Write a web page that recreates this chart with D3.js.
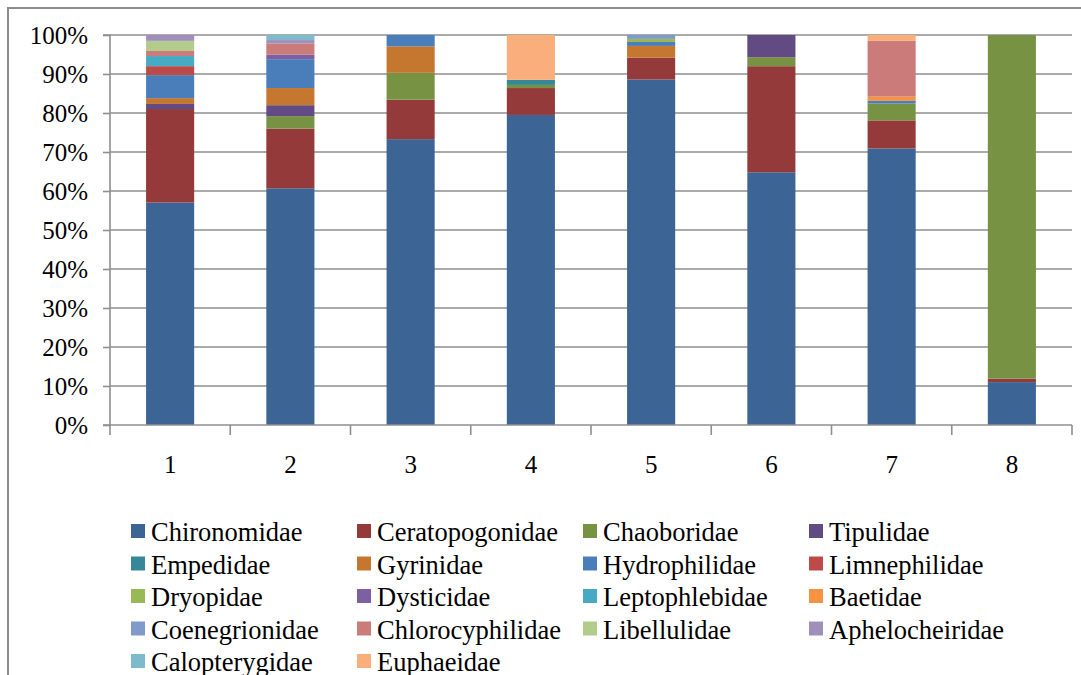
<!DOCTYPE html>
<html><head><meta charset="utf-8">
<script src="https://cdn.jsdelivr.net/npm/d3@7"></script>
<style>body{margin:0;background:#fff;}svg{display:block;} text{font-family:"Liberation Serif","Times New Roman",serif !important;}</style>
</head><body>
<svg id="chart" width="1081" height="675"></svg>
<script>
const categories = ["1","2","3","4","5","6","7","8"];
const families = ["Chironomidae","Ceratopogonidae","Chaoboridae","Tipulidae","Empedidae","Gyrinidae","Hydrophilidae","Limnephilidae","Dryopidae","Dysticidae","Leptophlebidae","Baetidae","Coenegrionidae","Chlorocyphilidae","Libellulidae","Aphelocheiridae","Calopterygidae","Euphaeidae"];
const colors = ["#3C6595","#953A3A","#789244","#614B82","#368797","#C6772F","#4A7EBB","#BB4A48","#98B954","#7D60A0","#46AAC5","#F69240","#7F9ACB","#CC7B7B","#B3CB8B","#A18FBB","#7DBBCC","#F9AE7B"];
const Chironomidae     = [57.1, 60.7, 73.3, 79.5, 88.6, 64.8, 70.9, 11.0];
const Ceratopogonidae  = [24.0, 15.3, 10.1,  6.9,  5.6, 27.2,  7.2,  0.9];
const Chaoboridae      = [ 0.0,  3.2,  6.9,  0.8,  0.0,  2.3,  4.3, 88.1];
const Tipulidae        = [ 1.3,  2.8,  0.0,  0.0,  0.0,  5.7,  0.0,  0.0];
const Empedidae        = [ 0.0,  0.0,  0.0,  1.3,  0.0,  0.0,  0.0,  0.0];
const Gyrinidae        = [ 1.5,  4.4,  6.8,  0.0,  3.0,  0.0,  0.0,  0.0];
const Hydrophilidae    = [ 5.9,  7.4,  2.9,  0.0,  1.0,  0.0,  0.7,  0.0];
const Limnephilidae    = [ 2.3,  0.0,  0.0,  0.0,  0.0,  0.0,  0.0,  0.0];
const Dryopidae        = [ 0.0,  0.0,  0.0,  0.0,  0.8,  0.0,  0.0,  0.0];
const Dysticidae       = [ 0.0,  1.2,  0.0,  0.0,  0.0,  0.0,  0.0,  0.0];
const Leptophlebidae   = [ 2.6,  0.0,  0.0,  0.0,  0.0,  0.0,  0.0,  0.0];
const Baetidae         = [ 0.0,  0.0,  0.0,  0.0,  0.0,  0.0,  1.1,  0.0];
const Coenegrionidae   = [ 0.0,  0.0,  0.0,  0.0,  1.0,  0.0,  0.0,  0.0];
const Chlorocyphilidae = [ 1.3,  2.8,  0.0,  0.0,  0.0,  0.0, 14.3,  0.0];
const Libellulidae     = [ 2.6,  0.0,  0.0,  0.0,  0.0,  0.0,  0.0,  0.0];
const Aphelocheiridae  = [ 1.5,  0.9,  0.0,  0.0,  0.0,  0.0,  0.0,  0.0];
const Calopterygidae   = [ 0.0,  1.3,  0.0,  0.0,  0.0,  0.0,  0.0,  0.0];
const Euphaeidae       = [ 0.0,  0.0,  0.0, 11.5,  0.0,  0.0,  1.5,  0.0];
const yTicks = [0,0.1,0.2,0.3,0.4,0.5,0.6,0.7,0.8,0.9,1.0];

const seriesValues = [Chironomidae,Ceratopogonidae,Chaoboridae,Tipulidae,Empedidae,Gyrinidae,Hydrophilidae,Limnephilidae,Dryopidae,Dysticidae,Leptophlebidae,Baetidae,Coenegrionidae,Chlorocyphilidae,Libellulidae,Aphelocheiridae,Calopterygidae,Euphaeidae];
const table = categories.map((c,i)=>{const r={cat:c}; families.forEach((f,j)=>r[f]=seriesValues[j][i]); return r;});

const svg = d3.select("#chart");
const L=110, R=1072, T=35, B=425;

svg.append("rect").attr("x",8).attr("y",8).attr("width",1090).attr("height",700)
  .attr("fill","none").attr("stroke","#8c8c8c").attr("stroke-width",2);

const x = d3.scaleBand().domain(categories).range([L,R]).paddingInner(0.6).paddingOuter(0.3);
const y = d3.scaleLinear().domain([0,1]).range([B,T]);
const color = d3.scaleOrdinal().domain(families).range(colors);

svg.append("g").selectAll("line").data(yTicks.slice(1)).join("line")
  .attr("x1",L).attr("x2",R).attr("y1",d=>y(d)).attr("y2",d=>y(d))
  .attr("stroke","#8f8f8f").attr("stroke-width",1.6);

const stack = d3.stack().keys(families).offset(d3.stackOffsetExpand);
const series = stack(table);
svg.append("g").selectAll("g").data(series).join("g").attr("fill",d=>color(d.key))
  .selectAll("rect").data(d=>d).join("rect")
  .attr("x",d=>x(d.data.cat)).attr("width",x.bandwidth())
  .attr("y",d=>y(d[1])).attr("height",d=>Math.max(0,y(d[0])-y(d[1])));

const yAxis = d3.axisLeft(y).tickValues(yTicks).tickFormat(d3.format(".0%")).tickSize(7).tickPadding(15);
const ya = svg.append("g").attr("transform",`translate(${L},0)`).call(yAxis);
ya.select(".domain").attr("stroke","#8f8f8f").attr("stroke-width",1.6).attr("d",`M-7,${T}H0V${B}H-7`);
ya.selectAll(".tick line").attr("stroke","#8f8f8f").attr("stroke-width",1.6);
ya.selectAll("text").attr("font-size",25).attr("fill","#000");

const xa = svg.append("g").attr("transform",`translate(0,${B})`).call(d3.axisBottom(x).tickSize(0).tickPadding(30));
xa.select(".domain").attr("stroke","#8f8f8f").attr("stroke-width",1.6).attr("d",`M${L},0H${R}`);
xa.selectAll("text").attr("font-size",25).attr("fill","#000");
const step = x.step();
xa.append("g").selectAll("line").data(d3.range(categories.length+1)).join("line")
  .attr("x1",i=>L+i*step).attr("x2",i=>L+i*step).attr("y1",0).attr("y2",10)
  .attr("stroke","#8f8f8f").attr("stroke-width",1.6);

const lg = svg.append("g");
const items = lg.selectAll("g").data(families).join("g")
  .attr("transform",(d,i)=>`translate(${131+(i%4)*226},${531+Math.floor(i/4)*32.5})`);
items.append("rect").attr("x",0).attr("y",-7).attr("width",14).attr("height",14).attr("fill",d=>color(d));
items.append("text").attr("x",20).attr("y",10).text(d=>d)
  .attr("font-size",26.5).attr("fill","#000");
</script>
</body></html>
